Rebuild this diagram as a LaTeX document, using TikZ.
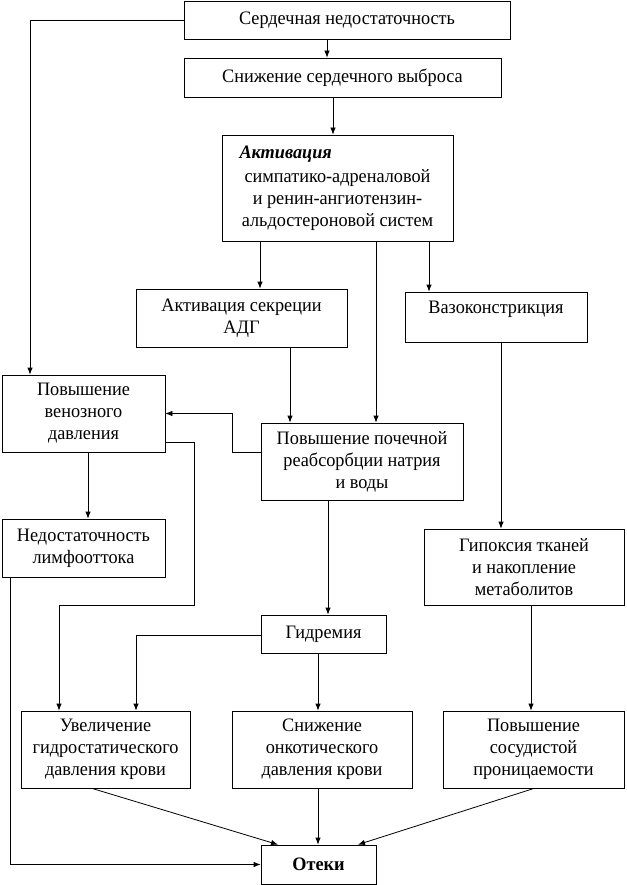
\documentclass[tikz,border=0pt]{standalone}
\usepackage{fontspec}
\setmainfont{Liberation Serif}[FakeStretch=0.96]
\usetikzlibrary{arrows.meta}
\begin{document}
\begin{tikzpicture}[x=1pt,y=1pt,
  box/.style={draw,line width=0.8pt,inner sep=0pt,align=center,
    font=\fontsize{19}{22}\selectfont},
  arr/.style={line width=0.8pt,-{Latex[length=7pt,width=5.5pt]}},
  ln/.style={line width=0.8pt}]
\useasboundingbox (0,0) rectangle (626,-885);
% boxes
\node[box,minimum width=326,minimum height=38] (hf) at (347,-20) {Сердечная недостаточность};
\node[box,minimum width=317,minimum height=39] (sco) at (342.5,-77.5) {Снижение сердечного выброса};
\node[box,minimum width=231,minimum height=106] (act) at (337.5,-188)
  {\makebox[196pt][l]{\textbf{\textit{Активация}}}\\[2pt]симпатико-адреналовой\\и ренин-ангиотензин-\\альдостероновой систем};
\node[box,minimum width=211,minimum height=58] (adg) at (241.5,-318) {Активация секреции\\АДГ};
\node[box,minimum width=182,minimum height=50,text height=14pt,text depth=22pt] (vaso) at (496,-317) {Вазоконстрикция};
\node[box,minimum width=163,minimum height=77] (ven) at (83.5,-413.5) {Повышение\\венозного\\давления};
\node[box,minimum width=202,minimum height=77] (poch) at (362,-461.5) {Повышение почечной\\реабсорбции натрия\\и воды};
\node[box,minimum width=163,minimum height=58] (ned) at (83.5,-548) {Недостаточность\\лимфооттока};
\node[box,minimum width=200,minimum height=76] (hyp) at (524,-567) {Гипоксия тканей\\и накопление\\метаболитов};
\node[box,minimum width=125,minimum height=38] (gid) at (323.5,-634) {Гидремия};
\node[box,minimum width=169,minimum height=77] (uve) at (105.5,-749.5) {Увеличение\\гидростатического\\давления крови};
\node[box,minimum width=180,minimum height=77] (sni) at (322,-749.5) {Снижение\\онкотического\\давления крови};
\node[box,minimum width=181,minimum height=77] (pov) at (533.5,-749.5) {Повышение\\сосудистой\\проницаемости};
\node[box,minimum width=115,minimum height=39] (ote) at (318.5,-864.5) {\textbf{Отеки}};
% connectors
\draw[arr] (hf.west) -| (ven.north -| 30,0);
\draw[arr] (hf.south -| 327,0) -- (sco.north -| 327,0);
\draw[arr] (sco.south -| 333,0) -- (act.north -| 333,0);
\draw[arr] (act.south -| 260,0) -- (adg.north -| 260,0);
\draw[arr] (act.south -| 376,0) -- (poch.north -| 376,0);
\draw[arr] (act.south -| 429,0) -- (vaso.north -| 429,0);
\draw[arr] (adg.south -| 290,0) -- (poch.north -| 290,0);
\draw[arr] (poch.west |- 0,-452) -- (232,-452) |- (ven.east);
\draw[arr] (ven.east |- 0,-442) -| (194,-605) -| (uve.north -| 59,0);
\draw[arr] (ven.south -| 88,0) -- (ned.north -| 88,0);
\draw[arr] (vaso.south -| 501,0) -- (hyp.north -| 501,0);
\draw[arr] (poch.south -| 328,0) -- (gid.north -| 328,0);
\draw[arr] (gid.west |- 0,-635) -| (uve.north -| 136,0);
\draw[arr] (gid.south -| 318,0) -- (sni.north -| 318,0);
\draw[arr] (hyp.south -| 531,0) -- (pov.north -| 531,0);
\draw[arr] (ned.south -| 10,0) |- (ote.west);
\draw[arr] (uve.south -| 92,0) -- (ote.north -| 278,0);
\draw[arr] (sni.south -| 318,0) -- (ote.north -| 318,0);
\draw[arr] (pov.south -| 534,0) -- (ote.north -| 358,0);
\end{tikzpicture}
\end{document}
